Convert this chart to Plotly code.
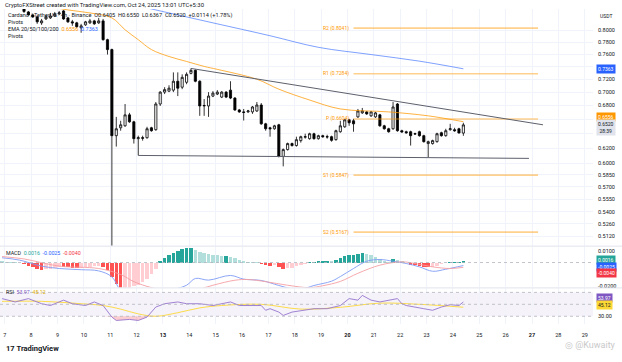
import math
import pandas as pd
import plotly.graph_objects as go

W, H = 622, 362

# ------------------------------------------------------------------ data
bar_start = "2025-10-06 21:30"          # 4h bars (UTC+5:30)
opens = [0.8720, 0.8690, 0.8630, 0.8580, 0.8520,
         0.8395, 0.8329, 0.8275, 0.8240, 0.8134, 0.8204, 0.8222, 0.8257, 0.8293, 0.8347,
         0.8222, 0.8152, 0.8134, 0.8047, 0.8099, 0.8134, 0.8169, 0.8134, 0.8169, 0.7843,
         0.7676, 0.6369, 0.6479, 0.6507, 0.6663, 0.6563, 0.6328, 0.6341, 0.6341, 0.6479,
         0.6452, 0.6822, 0.7000, 0.7015, 0.7030, 0.7167, 0.7075, 0.7151, 0.7291, 0.7338,
         0.7167, 0.6793, 0.6793, 0.6940, 0.6970, 0.6925, 0.7000, 0.7030, 0.6910, 0.6735,
         0.6706, 0.6706, 0.6706, 0.6720, 0.6807, 0.6535, 0.6479, 0.6465, 0.6521, 0.6089,
         0.6180, 0.6261, 0.6234, 0.6301, 0.6348, 0.6328, 0.6396, 0.6328, 0.6369, 0.6355,
         0.6355, 0.6314, 0.6424, 0.6493, 0.6592, 0.6578, 0.6634, 0.6692, 0.6706, 0.6649,
         0.6634, 0.6663, 0.6507, 0.6465, 0.6465, 0.6822, 0.6438, 0.6424, 0.6424, 0.6396,
         0.6424, 0.6369, 0.6261, 0.6261, 0.6287, 0.6410, 0.6369, 0.6452, 0.6452, 0.6465,
         0.6405]
highs = [0.8770, 0.8720, 0.8660, 0.8610, 0.8540,
         0.8400, 0.8347, 0.8293, 0.8257, 0.8204, 0.8275, 0.8311, 0.8329, 0.8347, 0.8365,
         0.8240, 0.8187, 0.8152, 0.8117, 0.8169, 0.8204, 0.8187, 0.8222, 0.8204, 0.7859,
         0.7692, 0.6634, 0.6578, 0.6822, 0.6692, 0.6578, 0.6369, 0.6369, 0.6493, 0.6493,
         0.6851, 0.7015, 0.7075, 0.7105, 0.7306, 0.7306, 0.7275, 0.7306, 0.7369, 0.7354,
         0.7182, 0.6895, 0.7000, 0.7015, 0.7030, 0.7015, 0.7015, 0.7167, 0.6925, 0.6749,
         0.6749, 0.6735, 0.6793, 0.6851, 0.6836, 0.6549, 0.6493, 0.6521, 0.6535, 0.6194,
         0.6274, 0.6274, 0.6355, 0.6369, 0.6396, 0.6410, 0.6410, 0.6382, 0.6382, 0.6382,
         0.6369, 0.6452, 0.6578, 0.6606, 0.6606, 0.6606, 0.6749, 0.6764, 0.6720, 0.6720,
         0.6706, 0.6677, 0.6521, 0.6479, 0.6851, 0.6836, 0.6452, 0.6438, 0.6438, 0.6410,
         0.6438, 0.6382, 0.6301, 0.6314, 0.6410, 0.6424, 0.6465, 0.6535, 0.6479, 0.6479,
         0.6550]
lows = [0.8660, 0.8600, 0.8560, 0.8500, 0.8420,
        0.8311, 0.8266, 0.8222, 0.8117, 0.8099, 0.8187, 0.8204, 0.8240, 0.8275, 0.8187,
        0.8134, 0.8082, 0.8047, 0.7961, 0.8082, 0.8117, 0.8099, 0.8117, 0.7826, 0.7594,
        0.2800, 0.6220, 0.6438, 0.6493, 0.6549, 0.6261, 0.6102, 0.6301, 0.6328, 0.6424,
        0.6438, 0.6793, 0.6970, 0.7000, 0.7000, 0.6940, 0.7045, 0.7121, 0.7275, 0.7151,
        0.6649, 0.6649, 0.6634, 0.6925, 0.6955, 0.6910, 0.6910, 0.6895, 0.6720, 0.6692,
        0.6582, 0.6692, 0.6677, 0.6706, 0.6521, 0.6438, 0.6355, 0.6452, 0.6076, 0.5959,
        0.6167, 0.6220, 0.6220, 0.6274, 0.6328, 0.6314, 0.6314, 0.6314, 0.6341, 0.6328,
        0.6287, 0.6301, 0.6410, 0.6479, 0.6507, 0.6424, 0.6620, 0.6677, 0.6663, 0.6634,
        0.6620, 0.6493, 0.6452, 0.6410, 0.6452, 0.6424, 0.6410, 0.6396, 0.6234, 0.6382,
        0.6355, 0.6274, 0.6076, 0.6247, 0.6274, 0.6355, 0.6355, 0.6438, 0.6424, 0.6400,
        0.6367]
closes = [0.8690, 0.8630, 0.8580, 0.8520, 0.8450,
          0.8338, 0.8275, 0.8240, 0.8152, 0.8169, 0.8240, 0.8257, 0.8293, 0.8311, 0.8204,
          0.8152, 0.8134, 0.8065, 0.8082, 0.8152, 0.8169, 0.8117, 0.8169, 0.7843, 0.7676,
          0.6369, 0.6465, 0.6521, 0.6663, 0.6563, 0.6328, 0.6341, 0.6335, 0.6465, 0.6438,
          0.6822, 0.7000, 0.7038, 0.7060, 0.7167, 0.7060, 0.7228, 0.7275, 0.7338, 0.7167,
          0.6793, 0.6800, 0.6940, 0.6985, 0.7000, 0.7000, 0.6925, 0.6910, 0.6735, 0.6706,
          0.6699, 0.6720, 0.6778, 0.6807, 0.6535, 0.6465, 0.6465, 0.6507, 0.6089, 0.6180,
          0.6261, 0.6234, 0.6314, 0.6355, 0.6355, 0.6396, 0.6328, 0.6369, 0.6355, 0.6352,
          0.6305, 0.6438, 0.6507, 0.6592, 0.6550, 0.6535, 0.6720, 0.6720, 0.6677, 0.6706,
          0.6692, 0.6507, 0.6465, 0.6424, 0.6778, 0.6438, 0.6420, 0.6410, 0.6369, 0.6393,
          0.6369, 0.6287, 0.6287, 0.6301, 0.6396, 0.6369, 0.6438, 0.6465, 0.6438, 0.6406,
          0.6520]

# EMA lines (bar index, value)
ema_orange_idx = [10, 15, 20, 25, 28, 31, 34, 38, 42, 46, 49, 58, 63, 70, 77, 88, 97, 105]
ema_orange_val = [0.8440, 0.8365, 0.8311, 0.8222, 0.8013, 0.7843, 0.7676, 0.7562, 0.7481,
                  0.7401, 0.7354, 0.7198, 0.7045, 0.6881, 0.6749, 0.6706, 0.6649, 0.6565]
ema_blue_idx = [20, 25, 36, 48, 61, 72, 84, 95, 105]
ema_blue_val = [0.8620, 0.8547, 0.8347, 0.8134, 0.7910, 0.7714, 0.7594, 0.7486, 0.7363]

# triangle trend lines
top_line_t = ["2025-10-14 01:30", "2025-10-27 10:00"]
top_line_v = [0.7369, 0.6521]
bottom_line_t = ["2025-10-12 01:30", "2025-10-26 21:15"]
bottom_line_v = [0.6102, 0.6063]

# weekly pivots
pivot_names = ["R2", "R1", "P", "S1", "S2"]
pivot_vals = [0.8041, 0.7284, 0.6604, 0.5847, 0.5167]
pivot_t = ["2025-10-20 05:30", "2025-10-27 05:30"]

# MACD
hist = [0.0010, 0.0008, 0.0006, 0.0002, -0.0005,
        -0.0012, -0.0025, -0.0038, -0.0052, -0.0062, -0.0058, -0.0050, -0.0042, -0.0034, -0.0036,
        -0.0040, -0.0043, -0.0046, -0.0044, -0.0040, -0.0036, -0.0033, -0.0030, -0.0040, -0.0060,
        -0.0120, -0.0180, -0.0220, -0.0215, -0.0210, -0.0200, -0.0185, -0.0165, -0.0135, -0.0095,
        -0.0050, 0.0015, 0.0040, 0.0060, 0.0080, 0.0095, 0.0110, 0.0118, 0.0125, 0.0105,
        0.0090, 0.0080, 0.0072, 0.0066, 0.0060, 0.0054, 0.0058, 0.0050, 0.0036, 0.0024,
        0.0014, 0.0008, 0.0005, 0.0003, -0.0010, -0.0020, -0.0025, -0.0021, -0.0040, -0.0052,
        -0.0048, -0.0042, -0.0032, -0.0022, -0.0012, 0.0005, 0.0008, 0.0010, 0.0012, 0.0015,
        0.0014, 0.0025, 0.0040, 0.0055, 0.0060, 0.0065, 0.0075, 0.0082, 0.0075, 0.0060,
        0.0050, 0.0030, 0.0015, 0.0005, 0.0033, 0.0025, 0.0010, -0.0008, -0.0018, -0.0024,
        -0.0030, -0.0036, -0.0038, -0.0035, -0.0025, -0.0015, -0.0008, 0.0003, 0.0006, 0.0008,
        0.0016]
macd_idx = [0, 4, 9, 13, 18, 22, 25, 27, 29, 31, 34, 36, 38, 42, 44, 47, 52, 55, 59, 63,
            66, 68, 71, 75, 77, 80, 83, 86, 89, 92, 95, 98, 101, 105]
macd_val = [0.0040, 0.0020, -0.0030, -0.0050, -0.0060, -0.0070, -0.0120, -0.0240, -0.0310,
            -0.0330, -0.0320, -0.0280, -0.0240, -0.0190, -0.0133, -0.0147, -0.0108, -0.0139,
            -0.0150, -0.0192, -0.0220, -0.0225, -0.0192, -0.0156, -0.0117, -0.0050, 0.0011,
            0.0025, 0.0011, -0.0008, -0.0036, -0.0073, -0.0056, -0.0025]
signal_idx = [0, 5, 13, 22, 27, 30, 34, 38, 43, 48, 53, 56, 60, 65, 70, 73, 77, 81, 86, 91,
              94, 98, 102, 105]
signal_val = [0.0050, 0.0030, -0.0030, -0.0050, -0.0100, -0.0160, -0.0210, -0.0240, -0.0240,
              -0.0190, -0.0148, -0.0142, -0.0160, -0.0190, -0.0210, -0.0194, -0.0158, -0.0090,
              -0.0022, 0.0006, -0.0008, -0.0036, -0.0050, -0.0040]

# RSI
rsi_idx = [0, 3, 6, 9, 11, 14, 16, 19, 21, 23, 25, 26, 29, 31, 33, 35, 37, 40, 42, 45,
           48, 50, 52, 54, 56, 59, 60, 61, 63, 64, 66, 69, 71, 74, 77, 79, 81, 82, 84, 86,
           88, 90, 91, 92, 96, 98, 100, 102, 104, 105]
rsi_val = [59.6, 54, 59.6, 51, 48, 57, 51, 48, 54, 48, 28.6, 23, 24.7, 23, 28.6, 45.5, 51, 54,
           51, 51, 48, 51, 54, 48, 48, 48, 40, 42.7, 37, 31.4, 37, 40, 42.7, 42.7, 48, 59.6,
           57, 65, 57, 54, 57, 59.6, 51, 48, 42.7, 40, 45.5, 49.4, 48, 53.97]
rsi_ma_idx = [0, 9, 18, 23, 27, 31, 35, 40, 45, 50, 59, 68, 77, 86, 95, 105]
rsi_ma_val = [55, 55, 51, 48, 42, 34, 30, 36, 44, 48, 50, 42, 45, 52, 50, 45.12]

price_ticks = [0.80, 0.78, 0.76, 0.74, 0.72, 0.70, 0.68, 0.66, 0.64, 0.62, 0.60,
               0.585, 0.57, 0.555, 0.54, 0.526, 0.512]
covered_ticks = [0.74, 0.66, 0.64]      # hidden under the value boxes
day_ticks = list(range(7, 30))
bold_days = [13, 20, 27]

# ------------------------------------------------------------------ build
times = pd.date_range(bar_start, periods=len(opens), freq="4h")
FONT = "Roboto, Liberation Sans, Arial"
XR = 593 / W


def px(x):
    return x / W


def py(y):
    return 1 - y / H


fig = go.Figure()

# pivots
for name, v in zip(pivot_names, pivot_vals):
    fig.add_trace(go.Scatter(x=pivot_t, y=[v, v], mode="lines", xaxis="x", yaxis="y",
                             line=dict(color="rgba(255,152,0,0.45)", width=1.6),
                             hoverinfo="skip", showlegend=False))

# EMAs
fig.add_trace(go.Scatter(x=times[ema_orange_idx], y=ema_orange_val, mode="lines",
                         line=dict(color="rgba(255,152,0,0.75)", width=1, shape="spline"),
                         xaxis="x", yaxis="y", hoverinfo="skip", showlegend=False))
fig.add_trace(go.Scatter(x=times[ema_blue_idx], y=ema_blue_val, mode="lines",
                         line=dict(color="rgba(41,98,255,0.6)", width=1, shape="spline"),
                         xaxis="x", yaxis="y", hoverinfo="skip", showlegend=False))

# trend lines
for tt, vv in ((top_line_t, top_line_v), (bottom_line_t, bottom_line_v)):
    fig.add_trace(go.Scatter(x=tt, y=vv, mode="lines", line=dict(color="#5d606b", width=1),
                             xaxis="x", yaxis="y", hoverinfo="skip", showlegend=False))

# candles
fig.add_trace(go.Candlestick(
    x=times, open=opens, high=highs, low=lows, close=closes, xaxis="x", yaxis="y",
    increasing=dict(line=dict(color="#000000", width=0.8), fillcolor="#ffffff"),
    decreasing=dict(line=dict(color="#000000", width=0.8), fillcolor="#000000"),
    whiskerwidth=0, hoverinfo="skip", showlegend=False))

# MACD histogram
cols = []
for i, v in enumerate(hist):
    prev = hist[i - 1] if i > 0 else v
    if v >= 0:
        cols.append("#26a69a" if v > prev else "#b2dfdb")
    else:
        cols.append("#ff5252" if v < prev else "#ffcdd2")
fig.add_trace(go.Bar(x=times, y=hist, marker=dict(color=cols, line=dict(width=0)),
                     width=4 * 3600 * 1000 * 0.8, xaxis="x", yaxis="y2",
                     hoverinfo="skip", showlegend=False))
fig.add_trace(go.Scatter(x=times[macd_idx], y=macd_val, mode="lines",
                         line=dict(color="#7f9cf5", width=0.9, shape="spline"),
                         xaxis="x", yaxis="y2", hoverinfo="skip", showlegend=False))
fig.add_trace(go.Scatter(x=times[signal_idx], y=signal_val, mode="lines",
                         line=dict(color="#f59fa4", width=0.9, shape="spline"),
                         xaxis="x", yaxis="y2", hoverinfo="skip", showlegend=False))

# RSI
low_sel = [i for i, v in zip(rsi_idx, rsi_val) if 23 <= i <= 35]
low_v = [min(v, 30) for i, v in zip(rsi_idx, rsi_val) if 23 <= i <= 35]
fig.add_trace(go.Scatter(x=times[low_sel], y=[30] * len(low_sel), mode="lines",
                         line=dict(width=0), xaxis="x", yaxis="y3",
                         hoverinfo="skip", showlegend=False))
fig.add_trace(go.Scatter(x=times[low_sel], y=low_v, mode="lines", line=dict(width=0),
                         fill="tonexty", fillcolor="rgba(242,54,69,0.25)",
                         xaxis="x", yaxis="y3", hoverinfo="skip", showlegend=False))
fig.add_trace(go.Scatter(x=times[rsi_ma_idx], y=rsi_ma_val, mode="lines",
                         line=dict(color="rgba(253,216,53,0.9)", width=1, shape="spline"),
                         xaxis="x", yaxis="y3", hoverinfo="skip", showlegend=False))
fig.add_trace(go.Scatter(x=times[rsi_idx], y=rsi_val, mode="lines",
                         line=dict(color="#9575cd", width=0.9),
                         xaxis="x", yaxis="y3", hoverinfo="skip", showlegend=False))

# ------------------------------------------------------------------ layout
y_main = [1 - 247 / H, 1 - 9 / H]
y_macd = [1 - 289 / H, 1 - 248 / H]
y_rsi = [1 - 326 / H, 1 - 290 / H]
grid = "#f0f3fa"
tickfont = dict(family=FONT, size=5.5, color="#131722")

fig.update_layout(
    width=W, height=H, margin=dict(l=0, r=0, t=0, b=0),
    paper_bgcolor="white", plot_bgcolor="white", showlegend=False,
    font=dict(family=FONT, size=5.5, color="#131722"), bargap=0,
    xaxis=dict(domain=[0, XR], type="date", anchor="y3",
               range=["2025-10-06 19:38", "2025-10-29 07:32"],
               tickvals=[f"2025-10-{d:02d}" for d in day_ticks],
               ticktext=[f"<b>{d}</b>" if d in bold_days else str(d) for d in day_ticks],
               tickfont=tickfont, showgrid=True, gridcolor=grid, gridwidth=1,
               zeroline=False, showline=False, ticks="", rangeslider=dict(visible=False),
               ticklabelstandoff=6),
    yaxis=dict(domain=y_main, type="log", anchor="x", side="right",
               range=[math.log10(0.50181), math.log10(0.83831)],
               tickmode="array", tickvals=price_ticks,
               ticktext=["" if v in covered_ticks else f"{v:.4f}" for v in price_ticks],
               tickfont=tickfont, showgrid=True, gridcolor=grid, zeroline=False,
               showline=False, ticks="", ticklabelstandoff=4),
    yaxis2=dict(domain=y_macd, anchor="x", side="right", range=[-0.0208, 0.0133],
                tickmode="array", tickvals=[0.01, -0.02], ticktext=["0.0100", "-0.0200"],
                tickfont=tickfont, showgrid=False, zeroline=False, showline=False,
                ticks="", ticklabelstandoff=4),
    yaxis3=dict(domain=y_rsi, anchor="x", side="right", range=[16.7, 76.7],
                tickmode="array", tickvals=[30], ticktext=["30.00"],
                tickfont=tickfont, showgrid=False, zeroline=False, showline=False,
                ticks="", ticklabelstandoff=4),
)

shapes = []
# pane separators
for yy in (247.5, 289.5):
    shapes.append(dict(type="line", xref="paper", yref="paper", x0=0, x1=1,
                       y0=py(yy), y1=py(yy), line=dict(color="#e0e3eb", width=1)))
# RSI band + levels
shapes.append(dict(type="rect", xref="paper", yref="y3", x0=0, x1=XR, y0=30, y1=70,
                   fillcolor="rgba(126,87,194,0.08)", line=dict(width=0), layer="below"))
for lv in (70, 50, 30):
    shapes.append(dict(type="line", xref="paper", yref="y3", x0=0, x1=XR, y0=lv, y1=lv,
                       line=dict(color="#b2b5be", width=0.8, dash="dot")))
shapes.append(dict(type="line", xref="paper", yref="y2", x0=0, x1=XR, y0=0, y1=0,
                   line=dict(color="#b2b5be", width=0.8, dash="dot")))
fig.update_layout(shapes=shapes)

ann = []


def txt(x, y, s, size=5.5, color="#131722", xanchor="left", bg=None, **kw):
    d = dict(x=px(x), y=py(y), xref="paper", yref="paper", text=s, showarrow=False,
             xanchor=xanchor, yanchor="middle", font=dict(family=FONT, size=size, color=color))
    if bg:
        d.update(bgcolor=bg, borderpad=1)
    d.update(kw)
    ann.append(d)


txt(3, 5, "CryptoFXStreet created with TradingView.com, Oct 24, 2025 13:01 UTC+5:30", size=5.9)
txt(6, 15.5, "Cardano / TetherUS · 4h · Binance  O0.6405  H0.6550  L0.6367  C0.6520  +0.0114 (+1.78%)",
    size=5.6)
txt(6, 22.5, "Pivots", size=5.5)
txt(6, 29, "EMA 20/50/100/200  <span style='color:#ff9800'>0.6556</span>  "
           "<span style='color:#2962ff'>0.7363</span>", size=5.5)
txt(6, 36, "Pivots", size=5.5)
txt(4, 254, "MACD  <span style='color:#26a69a'>0.0016</span>  "
            "<span style='color:#2962ff'>-0.0025</span>  "
            "<span style='color:#f23645'>-0.0040</span>", size=5.3)
txt(4, 294, "RSI  <span style='color:#7e57c2'>53.97</span>  "
            "<span style='color:#e0b000'>45.12</span>", size=5.3)

# pivot labels
for name, v in zip(pivot_names, pivot_vals):
    ann.append(dict(x=pivot_t[0], y=math.log10(v), xref="x", yref="y",
                    text=f"{name} ({v:.4f})", showarrow=False, xanchor="right",
                    yanchor="middle", xshift=-3,
                    font=dict(family=FONT, size=5, color="#ff9800")))

# price-scale boxes
txt(598, 16, "USDT", size=5)
txt(596, 69.3, "0.7363", size=5, color="white", bg="#2962ff")
txt(596, 118, "0.6556", size=5, color="white", bg="#ff9800")
txt(596, 128.5, "0.6520<br>28:39", size=5, color="#131722", bg="#e0e3eb")
txt(596, 261, "0.0016", size=5, color="white", bg="#26a69a")
txt(596, 268, "-0.0025", size=5, color="white", bg="#2962ff")
txt(596, 275, "-0.0040", size=5, color="white", bg="#f23645")
txt(596, 300, "53.97", size=5, color="white", bg="#7e57c2")
txt(596, 307, "45.12", size=5, color="#131722", bg="#fdd835")

# footer
txt(4, 350, "<b>17</b> <b>TradingView</b>", size=7.5)
txt(618, 347, "◎ @Kuwaity", size=9, color="#c9c9c9", xanchor="right")

fig.update_layout(annotations=ann)
fig.write_html(
    "out.html",
    config={"displayModeBar": False, "staticPlot": True},
    post_script=("document.body.style.margin='0';document.body.style.padding='0';"
                 "document.body.style.overflow='hidden';"
                 "document.documentElement.style.overflow='hidden';"),
)
